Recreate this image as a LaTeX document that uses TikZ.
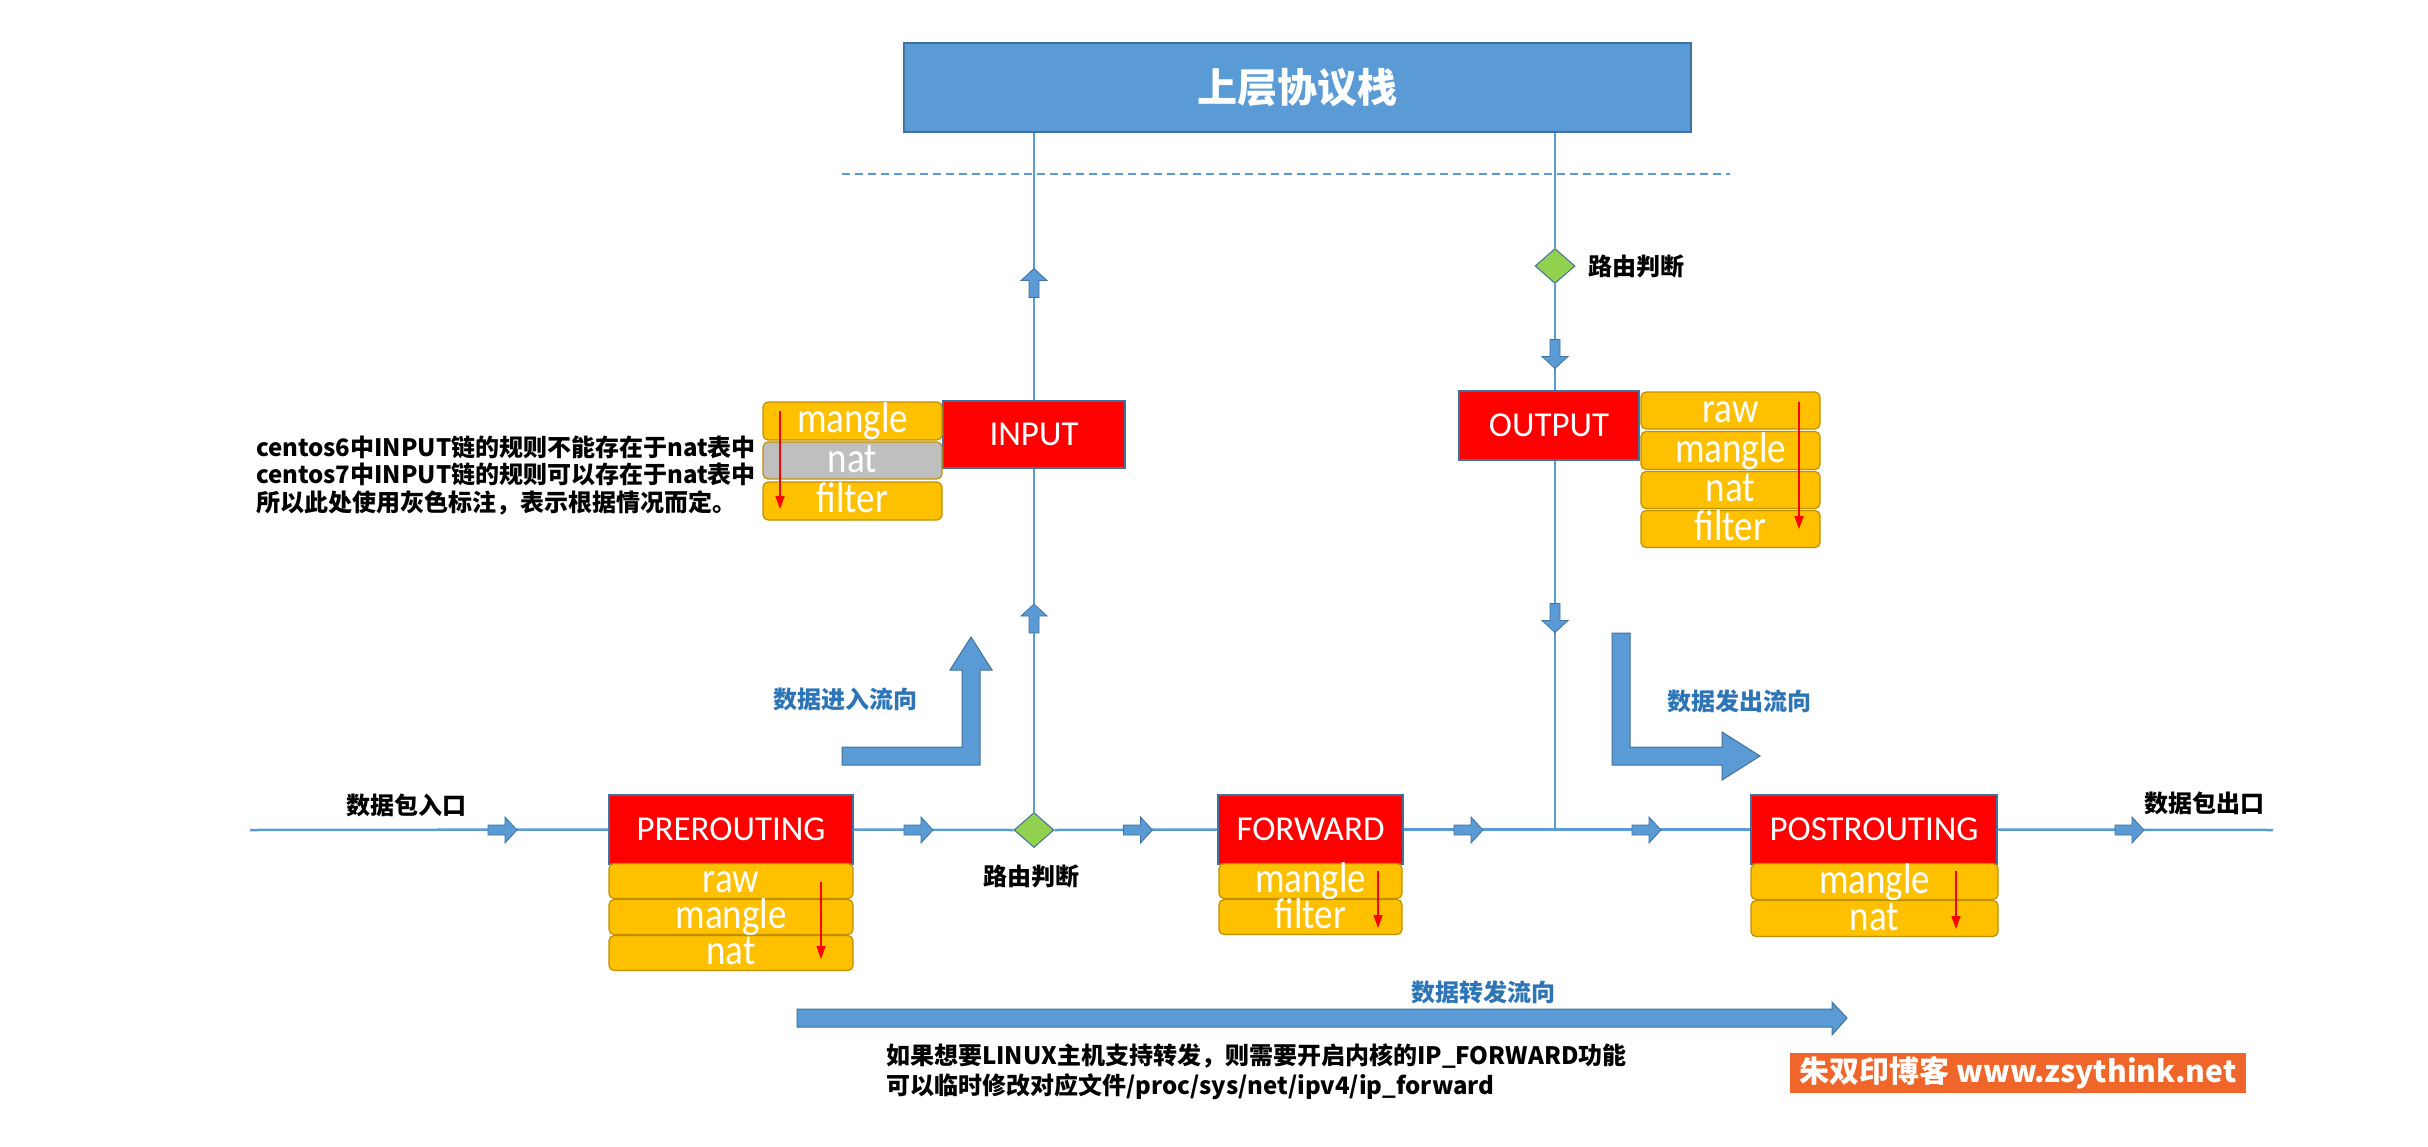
\documentclass[tikz,border=0pt]{standalone}
\usepackage{fontspec}
\setmainfont{Carlito}
\newfontfamily\cjk{Noto Sans CJK SC}
\newfontfamily\tblfont{Carlito}[FakeStretch=0.86]
\usetikzlibrary{arrows.meta,shapes.geometric}
\definecolor{lblue}{HTML}{5B9BD5}
\definecolor{dblue}{HTML}{41719C}
\definecolor{tblue}{HTML}{2E75B6}
\definecolor{ylw}{HTML}{FFC000}
\definecolor{ylwb}{HTML}{BF9000}
\definecolor{gry}{HTML}{BFBFBF}
\definecolor{grn}{HTML}{92D050}
\definecolor{org}{HTML}{F0662A}
\begin{document}
\begin{tikzpicture}[x=1pt,y=-1pt,
  chainbox/.style={draw=dblue, line width=1.2pt, fill=red, text=white, inner sep=0pt,
     text height=22pt, text depth=0pt, font=\fontsize{35}{35}\selectfont},
  tblbox/.style={draw=ylwb, line width=1.2pt, fill=ylw, rounded corners=5pt, text=white, inner sep=0pt,
     text height=23pt, text depth=0pt, font=\tblfont\fontsize{43}{43}\selectfont},
  mline/.style={draw=lblue, line width=2.5pt},
  route/.style={diamond, draw=dblue, line width=1pt, fill=grn, inner sep=0pt, minimum width=40pt, minimum height=35pt},
  cjklabel/.style={inner sep=0pt, font=\cjk\bfseries\fontsize{24}{30}\selectfont},
  bluelabel/.style={cjklabel, text=tblue},
  bigarrow/.style={fill=lblue, draw=dblue, line width=1pt},
  redarr/.style={draw=red, line width=1.3pt, -{Triangle[width=9pt,length=13pt]}},
  farrow/.pic={\filldraw[fill=lblue, draw=dblue, line width=0.8pt]
     (-14.5,-5) -- (2.5,-5) -- (2.5,-13) -- (14.5,0) -- (2.5,13) -- (2.5,5) -- (-14.5,5) -- cycle;}
]
\fill[white] (0,0) rectangle (2428,1146);
\useasboundingbox (0,0) rectangle (2428,1146);

% top protocol stack
\node[draw=dblue, line width=1.2pt, fill=lblue, minimum width=787pt, minimum height=89pt, inner sep=0pt,
      text=white, font=\cjk\bfseries\fontsize{40}{40}\selectfont] (top) at (1297.5,87.5) {上层协议栈};

% chains
\node[chainbox, minimum width=182pt, minimum height=67pt] (inp) at (1034,434.5) {INPUT};
\node[chainbox, minimum width=180pt, minimum height=69pt] (outp) at (1549,425.5) {OUTPUT};
\node[chainbox, minimum width=244pt, minimum height=69pt] (pre) at (731,829.5) {PREROUTING};
\node[chainbox, minimum width=185pt, minimum height=69pt] (fwd) at (1310.5,829.5) {FORWARD};
\node[chainbox, minimum width=246pt, minimum height=69pt] (post) at (1874,829.5) {POSTROUTING};

% tables of INPUT
\node[tblbox, minimum width=179pt, minimum height=38pt] (imangle) at (852.5,421) {mangle};
\node[tblbox, fill=gry, minimum width=179pt, minimum height=37pt] (inat) at (852.5,460.5) {nat};
\node[tblbox, minimum width=179pt, minimum height=38pt] (ifilter) at (852.5,501) {filter};
% tables of OUTPUT
\node[tblbox, minimum width=179pt, minimum height=37pt] (oraw) at (1730.5,410.5) {raw};
\node[tblbox, minimum width=179pt, minimum height=38pt] (omangle) at (1730.5,450.5) {mangle};
\node[tblbox, minimum width=179pt, minimum height=37pt] (onat) at (1730.5,490) {nat};
\node[tblbox, minimum width=179pt, minimum height=37pt] (ofilter) at (1730.5,529) {filter};
% tables of PREROUTING
\node[tblbox, minimum width=244pt, minimum height=35pt] (praw) at (731,881) {raw};
\node[tblbox, minimum width=244pt, minimum height=35pt] (pmangle) at (731,917) {mangle};
\node[tblbox, minimum width=244pt, minimum height=35pt] (pnat) at (731,953) {nat};
% tables of FORWARD
\node[tblbox, minimum width=183pt, minimum height=35pt] (fmangle) at (1310.5,881) {mangle};
\node[tblbox, minimum width=183pt, minimum height=35pt] (ffilter) at (1310.5,917) {filter};
% tables of POSTROUTING
\node[tblbox, minimum width=247pt, minimum height=36pt] (smangle) at (1874.5,881.5) {mangle};
\node[tblbox, minimum width=247pt, minimum height=36pt] (snat) at (1874.5,918.5) {nat};

% red order arrows
\draw[redarr] (780,411) -- (780,509);
\draw[redarr] (1799,402) -- (1799,529);
\draw[redarr] (821,882) -- (821,959);
\draw[redarr] (1378,871) -- (1378,928);
\draw[redarr] (1956,871) -- (1956,929);

% routing decisions
\node[route] (d1) at (1034,830) {};
\node[route] (d2) at (1555,266) {};
\node[cjklabel, anchor=north] (d1lab) at (1031.5,865) {路由判断};
\node[cjklabel, anchor=west] (d2lab) at (1588,266) {路由判断};

\coordinate (inc) at (250,830);
\coordinate (outc) at (2273,830);
\coordinate (jn) at (1555,830);

% flow lines
\draw[mline] (inc) -- (pre.west);
\draw[mline] (pre.east) -- (d1.west);
\draw[mline] (d1.east) -- (fwd.west);
\draw[mline] (fwd.east) -- (post.west);
\draw[mline] (post.east) -- (outc);
\draw[mline] (d1.north) -- (inp.south);
\draw[mline] (inp.north) -- (inp.north |- top.south);
\draw[mline] (d2.north |- top.south) -- (d2.north);
\draw[mline] (d2.south) -- (d2.south |- outp.north);
\draw[mline] (d2.south |- outp.south) -- (jn);

% dashed boundary
\coordinate (dl) at (842,174);
\coordinate (dr) at (1730,174);
\draw[draw=lblue, line width=2.5pt, dash pattern=on 8pt off 5pt] (dl) -- (dr);

% small flow arrows
\pic at (502.5,830) {farrow};
\pic at (918.5,830) {farrow};
\pic at (1138,830) {farrow};
\pic at (1468.5,830) {farrow};
\pic at (1646.5,830) {farrow};
\pic at (2129.5,830) {farrow};
\pic[rotate=90] at (1034,283) {farrow};
\pic[rotate=90] at (1034,618.5) {farrow};
\pic[rotate=-90] at (1555,354) {farrow};
\pic[rotate=-90] at (1555,618) {farrow};

% big direction arrows
\filldraw[bigarrow] (842,747) -- (962,747) -- (962,670) -- (950,670) -- (971,637) -- (992,670)
   -- (980,670) -- (980,765) -- (842,765) -- cycle;
\filldraw[bigarrow] (1612,633) -- (1630,633) -- (1630,747) -- (1722,747) -- (1722,732) -- (1760,756)
   -- (1722,780) -- (1722,765) -- (1612,765) -- cycle;
\filldraw[bigarrow] (797,1009) -- (1832,1009) -- (1832,1002) -- (1847,1018) -- (1832,1035)
   -- (1832,1027) -- (797,1027) -- cycle;

% labels
\node[bluelabel] (lin) at (845,699) {数据进入流向};
\node[bluelabel] (lout) at (1739.5,701) {数据发出流向};
\node[bluelabel] (lfwd) at (1483.5,992) {数据转发流向};
\node[cjklabel] (entry) at (406.5,805) {数据包入口};
\node[cjklabel] (exit) at (2204,803) {数据包出口};

\node[cjklabel, anchor=west, align=left, font=\cjk\bfseries\fontsize{24}{27.5}\selectfont] (note1) at (256,475.5)
  {centos6中INPUT链的规则不能存在于nat表中\\centos7中INPUT链的规则可以存在于nat表中\\所以此处使用灰色标注，表示根据情况而定。};
\node[cjklabel, anchor=west, align=left] (note2) at (886,1072)
  {如果想要LINUX主机支持转发，则需要开启内核的IP\_FORWARD功能\\可以临时修改对应文件/proc/sys/net/ipv4/ip\_forward};

% watermark
\node[fill=org, minimum width=456pt, minimum height=40pt, inner sep=0pt, text=white,
      font=\cjk\bfseries\fontsize{30}{30}\selectfont] (wm) at (2018,1073) {朱双印博客 www.zsythink.net};
\end{tikzpicture}
\end{document}
